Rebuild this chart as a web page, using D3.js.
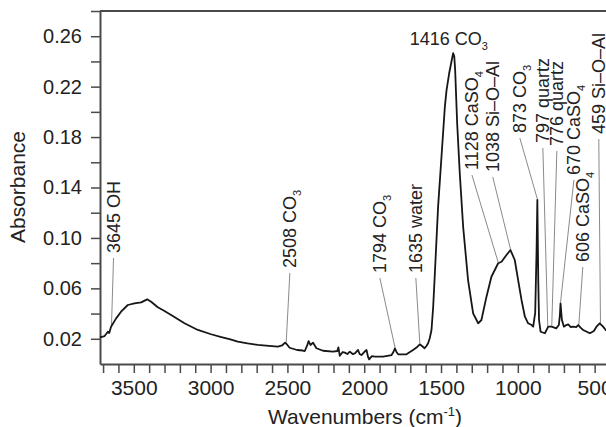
<!DOCTYPE html>
<html>
<head>
<meta charset="utf-8">
<script src="https://cdn.jsdelivr.net/npm/d3@7"></script>
<style>
body { margin: 0; background: #fff; }
text { font-family: "Liberation Sans", Arial, sans-serif; fill: #222; }
</style>
</head>
<body>
<svg width="606" height="427"></svg>
<script>
// spectrum
var wavenumber = [3720, 3690, 3669, 3660, 3648, 3615, 3583, 3539, 3496, 3452, 3413, 3387, 3344, 3300, 3257,
    3170, 3083, 2997, 2930, 2877, 2823, 2760, 2693, 2620, 2562, 2535, 2515, 2500, 2486, 2437,
    2400, 2387, 2370, 2362, 2350, 2333, 2311, 2268, 2203, 2175, 2168, 2159, 2140, 2126, 2110,
    2094, 2075, 2061, 2040, 2030, 2018, 2000, 1985, 1975, 1968, 1950, 1931, 1877, 1822, 1810,
    1800, 1790, 1779, 1725, 1682, 1655, 1638, 1620, 1607, 1595, 1584, 1573, 1562, 1551, 1540,
    1519, 1497, 1475, 1464, 1447, 1430, 1421, 1414, 1408, 1395, 1378, 1356, 1324, 1291, 1258,
    1237, 1204, 1172, 1128, 1106, 1074, 1048, 1020, 998, 976, 954, 933, 910, 900, 887,
    878, 873, 867, 862, 852, 824, 802, 780, 750, 733, 726, 722, 716, 713, 700,
    685, 672, 655, 640, 620, 607, 590, 575, 531, 505, 488, 467, 445, 428, 400];
var absorbance = [0.0212, 0.0222, 0.0256, 0.0246, 0.0296, 0.0362, 0.0415, 0.0468, 0.0481, 0.0489, 0.0513, 0.0494, 0.0450, 0.0420, 0.0389,
    0.0323, 0.0270, 0.0236, 0.0214, 0.0198, 0.0177, 0.0163, 0.0151, 0.0143, 0.0137, 0.0147, 0.0169, 0.0151, 0.0129, 0.0111,
    0.0107, 0.0103, 0.0151, 0.0182, 0.0151, 0.0169, 0.0125, 0.0105, 0.0098, 0.0103, 0.0132, 0.0065, 0.0095, 0.0090, 0.0079,
    0.0098, 0.0079, 0.0085, 0.0111, 0.0079, 0.0071, 0.0095, 0.0111, 0.0056, 0.0037, 0.0063, 0.0058, 0.0058, 0.0071, 0.0095,
    0.0125, 0.0095, 0.0077, 0.0077, 0.0111, 0.0135, 0.0156, 0.0139, 0.0125, 0.0143, 0.0164, 0.0206, 0.0270, 0.0454, 0.0722,
    0.1248, 0.1644, 0.2041, 0.2173, 0.2306, 0.2411, 0.2465, 0.2443, 0.2332, 0.1909, 0.1513, 0.1089, 0.0666, 0.0402, 0.0323,
    0.0349, 0.0534, 0.0692, 0.0799, 0.0811, 0.0865, 0.0904, 0.0825, 0.0666, 0.0508, 0.0375, 0.0323, 0.0309, 0.0296, 0.0405,
    0.0900, 0.1301, 0.0666, 0.0349, 0.0256, 0.0244, 0.0296, 0.0296, 0.0283, 0.0309, 0.0390, 0.0481, 0.0390, 0.0349, 0.0296,
    0.0309, 0.0315, 0.0293, 0.0296, 0.0293, 0.0309, 0.0286, 0.0270, 0.0244, 0.0262, 0.0296, 0.0323, 0.0296, 0.0270, 0.0246];

var yTickValues = [0.02, 0.04, 0.06, 0.08, 0.10, 0.12, 0.14, 0.16, 0.18, 0.20, 0.22, 0.24, 0.26, 0.28];
var yTickLabels = ['0.02', '', '0.06', '', '0.10', '', '0.14', '', '0.18', '', '0.22', '', '0.26', ''];
var xTickValues = d3.range(3700, 399, -100);
var xTickLabels = [3500, 3000, 2500, 2000, 1500, 1000, 500];

// peak labels
var peakWn = [3645, 2508, 1794, 1635, 1416, 1128, 1038, 873, 797, 776, 670, 606, 459];
var peakName = ['OH', 'CO', 'CO', 'water', 'CO', 'CaSO', 'Si\u2013O\u2013Al', 'CO', 'quartz', 'quartz', 'CaSO', 'CaSO', 'Si\u2013O\u2013Al'];
var peakSub = ['', '3', '3', '', '3', '4', '', '3', '', '', '4', '4', ''];
// where each label starts and where its leader points, in data units
var labelWn = [3632, 2484, 1898, 1664, 1449, 1299, 1163, 987, 837, 746, 635, 577, 473];
var labelAbs = [0.0880, 0.0761, 0.0722, 0.0722, 0.2530, 0.1539, 0.1523, 0.1832, 0.1753, 0.1729, 0.1499, 0.0809, 0.1824];
var pointWn = [3645, 2508, 1800, 1638, 1421, 1128, 1048, 873, 805, 779, 722, 603, 462];

var svg = d3.select('svg');
var x = d3.scaleLinear().domain([3720, 400]).range([100, 610]);
var y = d3.scaleLinear().domain([0, 0.28]).range([364, 11]);
var axisColor = '#4a4a4a';

function absAt(w) {
    for (var i = 1; i < wavenumber.length; i++) {
        if (wavenumber[i] <= w) {
            var t = (w - wavenumber[i - 1]) / (wavenumber[i] - wavenumber[i - 1]);
            return absorbance[i - 1] + t * (absorbance[i] - absorbance[i - 1]);
        }
    }
    return absorbance[absorbance.length - 1];
}

// axes
var yAxis = d3.axisLeft(y)
    .tickValues(yTickValues)
    .tickFormat((d, i) => yTickLabels[i])
    .tickSize(9)
    .tickSizeOuter(0)
    .tickPadding(9);
var gy = svg.append('g').attr('transform', 'translate(100,0)').call(yAxis);
gy.selectAll('text').style('font-size', '20px').attr('fill', '#222');

var xAxis = d3.axisBottom(x)
    .tickValues(xTickValues)
    .tickFormat(d => xTickLabels.indexOf(d) >= 0 ? d : '')
    .tickSize(9)
    .tickSizeOuter(0)
    .tickPadding(7);
var gx = svg.append('g').attr('transform', 'translate(0,364)').call(xAxis);
gx.selectAll('text').style('font-size', '21px').attr('fill', '#222');

svg.selectAll('.tick line').attr('stroke', axisColor).attr('stroke-width', 1.5);
svg.selectAll('.domain').attr('stroke', axisColor).attr('stroke-width', 2);

// top frame
svg.append('line')
    .attr('x1', x(3720)).attr('x2', x(400))
    .attr('y1', y(0.28)).attr('y2', y(0.28))
    .attr('stroke', axisColor).attr('stroke-width', 2);

// titles
svg.append('text')
    .attr('transform', 'translate(25,187) rotate(-90)')
    .attr('text-anchor', 'middle')
    .style('font-size', '21px')
    .text('Absorbance');

var xt = svg.append('text')
    .attr('x', 365).attr('y', 424)
    .attr('text-anchor', 'middle')
    .style('font-size', '21px');
xt.append('tspan').text('Wavenumbers (cm');
xt.append('tspan').attr('dy', -8).style('font-size', '13px').text('-1');
xt.append('tspan').attr('dy', 8).text(')');

// leader lines
var leaders = svg.append('g');
peakWn.forEach((p, i) => {
    var rotated = i !== 4;
    var y0 = rotated ? y(labelAbs[i]) + 5 : y(labelAbs[i]) + 7;
    leaders.append('line')
        .attr('x1', rotated ? x(labelWn[i]) : x(pointWn[i]))
        .attr('y1', y0)
        .attr('x2', x(pointWn[i]))
        .attr('y2', y(absAt(pointWn[i])) - 1)
        .attr('stroke', '#8a8a8a')
        .attr('stroke-width', 1);
});

// spectrum
var line = d3.line()
    .x(d => x(d[0]))
    .y(d => y(d[1]));
svg.append('path')
    .datum(d3.zip(wavenumber, absorbance))
    .attr('d', line)
    .attr('fill', 'none')
    .attr('stroke', '#161616')
    .attr('stroke-width', 1.8)
    .attr('stroke-linejoin', 'round');

// labels
peakWn.forEach((p, i) => {
    var rotated = i !== 4;
    var t = svg.append('text').style('font-size', '18px');
    if (rotated) {
        t.attr('transform', 'translate(' + x(labelWn[i]) + ',' + y(labelAbs[i]) + ') rotate(-90)')
            .attr('dy', '0.36em');
    } else {
        t.attr('x', x(labelWn[i])).attr('y', y(labelAbs[i])).attr('text-anchor', 'middle');
    }
    t.append('tspan').text(p + ' ' + peakName[i]);
    if (peakSub[i]) {
        t.append('tspan').attr('dy', 5).style('font-size', '11px').text(peakSub[i]);
    }
});
</script>
</body>
</html>
